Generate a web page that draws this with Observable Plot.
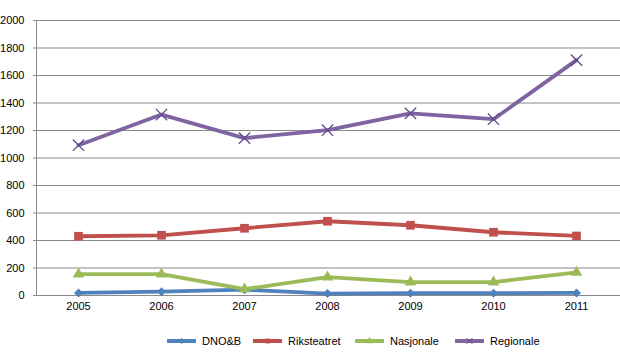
<!DOCTYPE html>
<html>
<head>
<meta charset="utf-8">
<script src="https://cdn.jsdelivr.net/npm/d3@7"></script>
<script src="https://cdn.jsdelivr.net/npm/@observablehq/plot@0.6"></script>
<style>
  html, body { margin: 0; padding: 0; background: #fff; }
  body { width: 620px; height: 364px; overflow: hidden; font-family: "Liberation Sans", Arial, sans-serif; }
  #legend { height: 42px; position: relative; font-size: 11px; color: #000; }
  .item { position: absolute; top: 13px; display: flex; align-items: center; }
  .item svg { margin-right: 6px; }
</style>
</head>
<body>
<div id="chart"></div>
<div id="legend"></div>
<script>
const years = ["2005", "2006", "2007", "2008", "2009", "2010", "2011"];
const series = ["DNO&B", "Riksteatret", "Nasjonale", "Regionale"];
const dnob = [19, 28, 42, 14, 17, 17, 19];
const riksteatret = [431, 438, 489, 540, 511, 460, 433];
const nasjonale = [155, 155, 46, 133, 97, 97, 168];
const regionale = [1093, 1316, 1145, 1202, 1325, 1282, 1712];
const yTicks = [0, 200, 400, 600, 800, 1000, 1200, 1400, 1600, 1800, 2000];
const colors = ["#4f81bd", "#c0504d", "#9bbb59", "#8064a2"];
const symbols = ["diamond2", "square", "triangle", "times"];
const legendX = [167, 253, 355, 455];

const valuesBySeries = [dnob, riksteatret, nasjonale, regionale];
const data = [];
series.forEach((s, i) => years.forEach((y, j) => data.push({series: s, year: y, value: valuesBySeries[i][j]})));

const colorScale = {domain: series, range: colors};
const dotStyle = [
  {r: 4.05, fill: colors[0], stroke: "none"},
  {r: 4.9, fill: colors[1], stroke: "none"},
  {r: 4.3, fill: colors[2], stroke: "none"},
  {r: 5.2, fill: "none", stroke: "#5f4a8b", strokeWidth: 1.3}
];

const marks = [
  Plot.gridY(yTicks, {stroke: "#8a8a8a", strokeOpacity: 1, strokeWidth: 1}),
  Plot.ruleX(years.slice(0, 1), {dx: -42, stroke: "#8a8a8a", strokeWidth: 1}),
  Plot.axisY(yTicks, {tickSize: 0, tickPadding: 9, fontSize: 11, fill: "#000", tickFormat: d => String(d)}),
  Plot.axisX({tickSize: 0, tickPadding: 7, fontSize: 11, fill: "#000"}),
  Plot.line(data, {x: "year", y: "value", z: "series", stroke: "series", strokeWidth: 3.8, strokeLinejoin: "round"})
];
series.forEach((s, i) => {
  marks.push(Plot.dot(data.filter(d => d.series === s), {x: "year", y: "value", symbol: () => symbols[i], ...dotStyle[i]}));
});

const chart = Plot.plot({
  width: 620,
  height: 322,
  marginLeft: 33,
  marginRight: 0,
  marginTop: 20,
  marginBottom: 27,
  style: {fontFamily: "'Liberation Sans', Arial, sans-serif", fontSize: "11px", background: "#fff", overflow: "visible"},
  x: {type: "point", domain: years, padding: 0.5, label: null},
  y: {domain: [0, 2000], label: null},
  color: colorScale,
  symbol: {domain: symbols, range: symbols},
  marks
});
document.getElementById("chart").appendChild(chart);

const legend = document.getElementById("legend");
series.forEach((s, i) => {
  const item = document.createElement("div");
  item.className = "item";
  item.style.left = legendX[i] + "px";
  const sw = d3.create("svg").attr("width", 29).attr("height", 12);
  sw.append("line").attr("x1", 1).attr("x2", 28).attr("y1", 6).attr("y2", 6)
    .attr("stroke", colors[i]).attr("stroke-width", 4).attr("stroke-linecap", "round");
  const sym = d3.symbol().type([d3.symbolDiamond2, d3.symbolSquare, d3.symbolTriangle, d3.symbolTimes][i]).size(24);
  if (i === 3) {
    sw.append("path").attr("d", sym()).attr("transform", "translate(14.5,6)").attr("fill", "none").attr("stroke", "#5f4a8b").attr("stroke-width", 1);
  } else {
    sw.append("path").attr("d", sym()).attr("transform", "translate(14.5,6)").attr("fill", colors[i]);
  }
  item.appendChild(sw.node());
  const t = document.createElement("span");
  t.textContent = s;
  item.appendChild(t);
  legend.appendChild(item);
});
</script>
</body>
</html>
